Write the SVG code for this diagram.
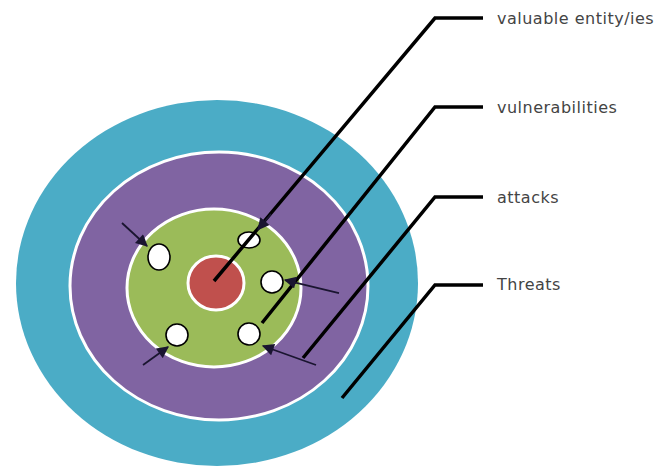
<svg xmlns="http://www.w3.org/2000/svg" width="671" height="467" viewBox="0 0 671 467">
<defs>
<style>
.lead{fill:none;stroke:#000;stroke-width:3.5;stroke-linejoin:miter}
.arr{fill:none;stroke:#1a1530;stroke-width:1.8}
.hole{fill:#fff;stroke:#000;stroke-width:1.6}
.lbl{font-family:"DejaVu Sans",Verdana,sans-serif;font-size:16px;letter-spacing:0.5px;fill:#444}
</style>
<marker id="ah" viewBox="0 0 10 10" refX="9" refY="5" markerWidth="13" markerHeight="12" markerUnits="userSpaceOnUse" orient="auto">
<path d="M0,0 L10,5 L0,10 z" fill="#1a1530"/>
</marker>
</defs>
<rect width="671" height="467" fill="#fff"/>
<g id="threats-ring"><ellipse cx="217" cy="283" rx="201" ry="183" fill="#4BACC6"/></g>
<g id="attacks-ring"><ellipse cx="219" cy="286" rx="149" ry="134" fill="#8064A2" stroke="#fff" stroke-width="3"/></g>
<g id="vuln-ring"><ellipse cx="214" cy="288" rx="87" ry="79" fill="#9BBB59" stroke="#fff" stroke-width="3"/></g>
<g id="core"><ellipse cx="216" cy="283" rx="28" ry="27" fill="#C0504D" stroke="#fff" stroke-width="3"/></g>
<g id="holes">
<ellipse class="hole" cx="249" cy="240" rx="11" ry="8"/>
<ellipse class="hole" cx="159" cy="257" rx="11" ry="13"/>
<ellipse class="hole" cx="272" cy="282" rx="11" ry="11"/>
<ellipse class="hole" cx="177" cy="335" rx="11" ry="11"/>
<ellipse class="hole" cx="249" cy="334" rx="11" ry="11"/>
</g>
<g id="connectors">
<polyline class="lead" points="483,18 435,18 214,281"/>
<line class="arr" x1="271" y1="214" x2="258" y2="229.5" marker-end="url(#ah)"/>
<polyline class="lead" points="483,107 435,107 262,323"/>
<polyline class="lead" points="483,197 435,197 303,358"/>
<polyline class="lead" points="483,285 435,285 342,398"/>
<line class="arr" x1="122" y1="223" x2="147" y2="246" marker-end="url(#ah)"/>
<line class="arr" x1="339" y1="293" x2="285" y2="280" marker-end="url(#ah)"/>
<line class="arr" x1="143" y1="365" x2="168" y2="347" marker-end="url(#ah)"/>
<line class="arr" x1="316" y1="365" x2="263" y2="346" marker-end="url(#ah)"/>
</g>
<g id="labels">
<text class="lbl" x="497" y="24">valuable entity/ies</text>
<text class="lbl" x="497" y="113">vulnerabilities</text>
<text class="lbl" x="497" y="203">attacks</text>
<text class="lbl" x="497" y="290">Threats</text>
</g>
</svg>
